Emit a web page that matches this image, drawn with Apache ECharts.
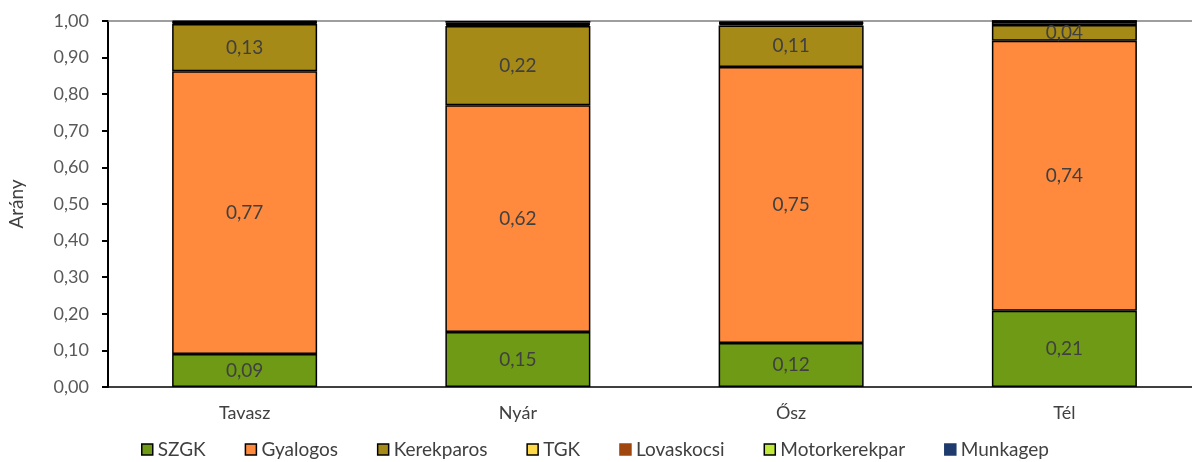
<!DOCTYPE html>
<html>
<head>
<meta charset="utf-8">
<script src="https://cdn.jsdelivr.net/npm/echarts@6/dist/echarts.min.js"></script>
<style>
	html, body { margin: 0; padding: 0; background: #fff; }
	#chart { width: 1192px; height: 462px; }
</style>
</head>
<body>
<div id="chart"></div>
<script>
// évszakok
const seasons = ['Tavasz', 'Nyár', 'Ősz', 'Tél'];
const seriesNames = ['SZGK', 'Gyalogos', 'Kerekparos', 'TGK', 'Lovaskocsi', 'Motorkerekpar', 'Munkagep'];
const szgk = [0.09, 0.15, 0.12, 0.208];
const gyalogos = [0.773, 0.62, 0.754, 0.738];
const kerekparos = [0.129, 0.216, 0.114, 0.043];
const tgk = [0.003, 0.004, 0.004, 0.009];
const lovaskocsi = [0.001, 0.002, 0.002, 0.001];
const motorkerekpar = [0.002, 0.003, 0.002, 0.001];
const munkagep = [0.002, 0.005, 0.003, 0];
const colors = ['#6E9A15', '#FF8A3D', '#A68A18', '#FFD94A', '#A0470F', '#BFEA3A', '#1F3B6E'];

const font = 'Lato, "Liberation Sans", sans-serif';
const fmt = v => v.toFixed(2).replace('.', ',');

const allData = [szgk, gyalogos, kerekparos, tgk, lovaskocsi, motorkerekpar, munkagep];

const chart = echarts.init(document.getElementById('chart'));
chart.setOption({
	animation: false,
	textStyle: { fontFamily: font },
	grid: { left: 108, top: 21, bottom: 75, width: 1093, outerBoundsMode: 'none', containLabel: false },
	legend: {
		top: 440,
		left: 141,
		padding: 0,
		itemWidth: 11,
		itemHeight: 11,
		itemGap: 39,
		icon: 'rect',
		textStyle: { fontSize: 19, color: '#404040', fontFamily: font },
		data: seriesNames.map((n, i) => ({
			name: n,
			itemStyle: { color: colors[i], borderColor: i === 4 || i === 6 ? colors[i] : '#000', borderWidth: 1.5 }
		}))
	},
	xAxis: [
		{
			type: 'category',
			data: seasons,
			axisLine: { lineStyle: { color: '#000', width: 1.5 } },
			axisTick: { show: false },
			axisLabel: { fontSize: 18, color: '#404040', margin: 17, fontFamily: font }
		},
		{
			type: 'category',
			position: 'top',
			data: seasons,
			axisLine: { lineStyle: { color: '#7f7f7f', width: 1.5 } },
			axisTick: { show: false },
			axisLabel: { show: false }
		}
	],
	yAxis: {
		type: 'value',
		min: 0,
		max: 1,
		interval: 0.1,
		name: 'Arány',
		nameLocation: 'middle',
		nameGap: 82,
		nameTextStyle: { fontSize: 19, color: '#404040', fontFamily: font },
		axisLine: { show: true, lineStyle: { color: '#000', width: 2 } },
		axisTick: { show: true, length: 6, lineStyle: { color: '#000', width: 2 } },
		splitLine: { show: false },
		axisLabel: { fontSize: 18, color: '#595959', margin: 19, formatter: fmt, fontFamily: font }
	},
	series: seriesNames.map((n, i) => ({
		name: n,
		type: 'bar',
		stack: 'total',
		barWidth: 145,
		data: allData[i],
		itemStyle: { color: colors[i], borderColor: '#000', borderWidth: 1.5 },
		label: {
			show: i < 3,
			position: 'inside',
			fontSize: 19,
			color: '#404040',
			fontFamily: font,
			formatter: p => fmt(p.value)
		}
	}))
});
</script>
</body>
</html>
